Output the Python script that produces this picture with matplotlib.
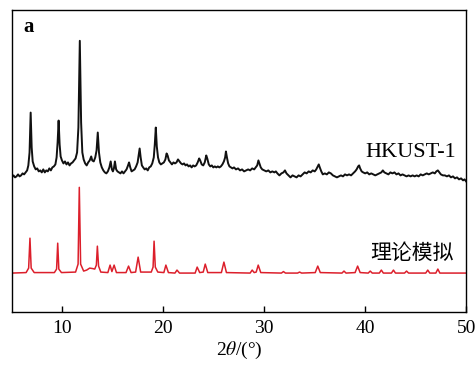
import matplotlib

matplotlib.use("Agg")
import matplotlib.pyplot as plt

# XRD patterns (2theta in degrees, intensity in arbitrary units)
measured_pattern = [
    (5.0, 135), (5.15, 137), (5.3, 135), (5.45, 136), (5.6, 138), (5.75, 136), (5.9, 137),
    (6.05, 139), (6.2, 138), (6.35, 140), (6.5, 142), (6.62, 147), (6.74, 160), (6.85, 200),
    (6.95, 165), (7.05, 151), (7.2, 146), (7.35, 143), (7.5, 144), (7.65, 141), (7.8, 142),
    (7.95, 140), (8.1, 143), (8.25, 140), (8.4, 142), (8.55, 141), (8.7, 144), (8.85, 142),
    (9.0, 145), (9.15, 146), (9.3, 148), (9.42, 155), (9.52, 170), (9.62, 192), (9.72, 168),
    (9.82, 156), (9.95, 152), (10.1, 149), (10.25, 151), (10.4, 148), (10.55, 150),
    (10.7, 147), (10.85, 149), (11.0, 150), (11.15, 152), (11.3, 154), (11.45, 160),
    (11.58, 185), (11.72, 272), (11.85, 190), (11.97, 160), (12.1, 153), (12.25, 149),
    (12.4, 147), (12.55, 150), (12.7, 152), (12.85, 156), (12.95, 152), (13.1, 151),
    (13.25, 155), (13.38, 162), (13.5, 180), (13.62, 160), (13.75, 150), (13.9, 145),
    (14.05, 142), (14.2, 140), (14.35, 139), (14.5, 141), (14.65, 145), (14.78, 151),
    (14.9, 143), (15.0, 141), (15.1, 144), (15.2, 151), (15.32, 143), (15.45, 141),
    (15.6, 140), (15.75, 139), (15.9, 141), (16.05, 139), (16.2, 141), (16.35, 143),
    (16.5, 147), (16.6, 150), (16.72, 145), (16.85, 141), (17.0, 142), (17.15, 143),
    (17.3, 146), (17.45, 150), (17.55, 157), (17.65, 164), (17.75, 155), (17.87, 147),
    (18.0, 145), (18.15, 143), (18.3, 144), (18.45, 142), (18.6, 145), (18.75, 146),
    (18.9, 149), (19.05, 155), (19.15, 168), (19.25, 185), (19.35, 166), (19.47, 155),
    (19.6, 150), (19.75, 148), (19.9, 149), (20.05, 150), (20.2, 153), (20.32, 159),
    (20.42, 157), (20.55, 152), (20.7, 150), (20.85, 148), (21.0, 150), (21.15, 149),
    (21.3, 150), (21.45, 153), (21.6, 151), (21.75, 149), (21.9, 148), (22.05, 149),
    (22.2, 147), (22.35, 148), (22.5, 146), (22.65, 147), (22.8, 145), (22.95, 147),
    (23.1, 146), (23.25, 147), (23.4, 150), (23.55, 154), (23.65, 152), (23.8, 148),
    (23.95, 147), (24.1, 150), (24.25, 157), (24.35, 154), (24.5, 148), (24.65, 146),
    (24.8, 147), (24.95, 145), (25.1, 146), (25.25, 145), (25.4, 146), (25.55, 145),
    (25.7, 146), (25.85, 148), (26.0, 151), (26.12, 155), (26.2, 161), (26.3, 155),
    (26.42, 149), (26.55, 146), (26.7, 145), (26.85, 144), (27.0, 145), (27.2, 143),
    (27.4, 144), (27.6, 142), (27.8, 143), (28.0, 141), (28.2, 142), (28.4, 143),
    (28.6, 142), (28.8, 144), (29.0, 143), (29.15, 145), (29.3, 147), (29.42, 152),
    (29.52, 149), (29.65, 145), (29.8, 143), (30.0, 142), (30.2, 141), (30.4, 142),
    (30.6, 140), (30.8, 141), (31.0, 140), (31.15, 141), (31.3, 139), (31.5, 137),
    (31.7, 139), (31.9, 140), (32.05, 142), (32.2, 139), (32.4, 137), (32.6, 135),
    (32.8, 137), (33.0, 136), (33.2, 135), (33.4, 137), (33.6, 136), (33.8, 138),
    (34.0, 140), (34.2, 139), (34.4, 141), (34.6, 140), (34.8, 142), (35.0, 141),
    (35.15, 143), (35.3, 146), (35.4, 148), (35.5, 145), (35.65, 141), (35.8, 138),
    (36.0, 139), (36.2, 138), (36.4, 140), (36.6, 139), (36.8, 137), (37.0, 136),
    (37.2, 135), (37.4, 136), (37.6, 137), (37.8, 136), (38.0, 138), (38.2, 137),
    (38.4, 138), (38.6, 137), (38.8, 139), (39.0, 141), (39.15, 143), (39.3, 146),
    (39.4, 147), (39.5, 144), (39.65, 141), (39.8, 140), (40.0, 139), (40.2, 140),
    (40.4, 138), (40.6, 139), (40.8, 138), (41.0, 137), (41.2, 138), (41.4, 139),
    (41.6, 140), (41.75, 142), (41.9, 140), (42.1, 139), (42.3, 138), (42.5, 140),
    (42.7, 139), (42.9, 140), (43.1, 138), (43.3, 139), (43.5, 137), (43.7, 138),
    (43.9, 137), (44.1, 136), (44.3, 137), (44.5, 136), (44.7, 137), (44.9, 136),
    (45.1, 137), (45.3, 136), (45.5, 138), (45.7, 137), (45.9, 138), (46.1, 139),
    (46.3, 138), (46.5, 139), (46.7, 140), (46.9, 139), (47.05, 141), (47.2, 142),
    (47.35, 140), (47.5, 138), (47.7, 137), (47.9, 137), (48.1, 136), (48.3, 137),
    (48.5, 135), (48.7, 136), (48.9, 134), (49.1, 135), (49.3, 133), (49.5, 134),
    (49.7, 132), (49.85, 133), (50.0, 131),
]

simulated_pattern = [
    (5.0, 39), (6.4, 39.5), (6.65, 44), (6.78, 74), (6.9, 44), (7.2, 39.5),
    (9.2, 39.5), (9.42, 43), (9.53, 69), (9.64, 43), (9.9, 39.5),
    (11.3, 40), (11.55, 48), (11.67, 125), (11.8, 48), (12.1, 41), (12.4, 42),
    (12.7, 44), (13.0, 43.5), (13.2, 43), (13.36, 47), (13.46, 66), (13.58, 46),
    (13.8, 40), (14.5, 39.5), (14.72, 47), (14.9, 40.5), (15.12, 47), (15.35, 39.5),
    (16.3, 39.5), (16.55, 46), (16.8, 39.5), (17.25, 40), (17.5, 55), (17.75, 40),
    (18.8, 40), (18.98, 45), (19.08, 71), (19.2, 45), (19.45, 40),
    (20.05, 39.5), (20.25, 47), (20.5, 39.5), (21.15, 39), (21.35, 42), (21.6, 39),
    (23.15, 39), (23.35, 45), (23.6, 39.5), (23.95, 40), (24.15, 48), (24.4, 39.5),
    (25.75, 39.5), (26.0, 50), (26.25, 39.5), (28.6, 39), (28.8, 42), (29.0, 39.5),
    (29.2, 40), (29.4, 47), (29.65, 39.5), (31.7, 39), (31.9, 40.5), (32.1, 39),
    (33.3, 39), (33.5, 40), (33.7, 39), (35.05, 39.5), (35.3, 46), (35.55, 39.5),
    (37.7, 39), (37.9, 41), (38.1, 39), (39.0, 39.5), (39.25, 46), (39.5, 39.5),
    (40.3, 39), (40.5, 41), (40.7, 39), (41.4, 39), (41.6, 42), (41.8, 39),
    (42.6, 39), (42.8, 42), (43.0, 39), (43.9, 39), (44.1, 41), (44.3, 39),
    (46.0, 39), (46.2, 42), (46.4, 39), (47.0, 39), (47.2, 43), (47.4, 39),
    (50.0, 39),
]

x_ticks = [10, 20, 30, 40, 50]
panel_label = "a"
measured_label = "HKUST-1"
simulated_label = "理论模拟"

plt.rcParams["font.family"] = ["Liberation Serif", "Noto Sans CJK SC"]
plt.rcParams["mathtext.fontset"] = "stix"

fig = plt.figure(figsize=(4.76, 3.67), dpi=100)
ax = fig.add_axes([0.0252, 0.150, 0.954, 0.823])

mx, my = zip(*measured_pattern)
sx, sy = zip(*simulated_pattern)
ax.plot(mx, my, color="#111111", lw=1.4)
ax.plot(sx, sy, color="#dc1f2b", lw=1.1)

ax.set_xlim(5, 50)
ax.set_ylim(0, 303)
ax.set_xticks(x_ticks)
ax.set_yticks([])
ax.tick_params(axis="x", direction="in", length=4.5, width=1.0, labelsize=14, pad=6)
for spine in ax.spines.values():
    spine.set_linewidth(1.0)
ax.set_xlabel(r"2$\theta$/(°)", fontsize=14, labelpad=2)

ax.text(6.1, 286, panel_label, fontsize=15, fontweight="bold", va="center", ha="left")
ax.text(49.0, 159.5, measured_label, fontsize=16, va="center", ha="right")
ax.text(48.8, 59.5, simulated_label, fontsize=15, va="center", ha="right",
        family=["Noto Sans CJK SC", "DejaVu Sans"])

fig.savefig("out.png", dpi=100)
